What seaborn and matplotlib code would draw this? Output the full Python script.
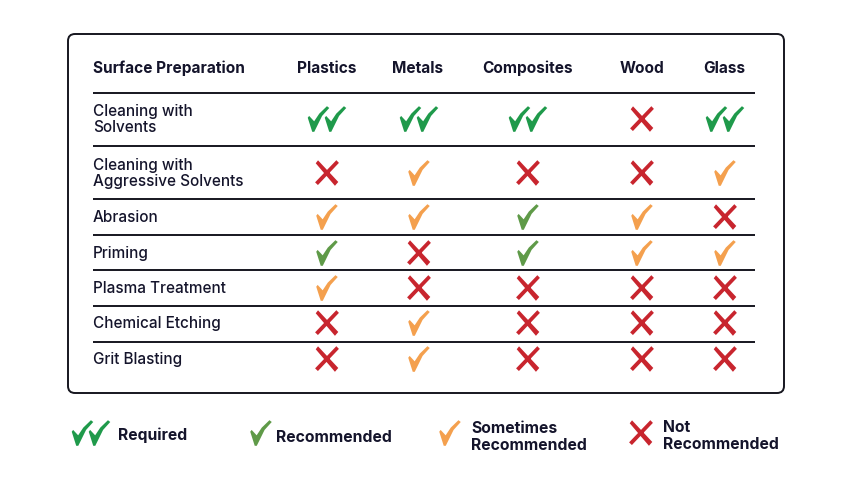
import matplotlib
matplotlib.use('Agg')
import matplotlib.pyplot as plt
from matplotlib.patches import FancyBboxPatch
from matplotlib.path import Path
import pandas as pd
import seaborn as sns

surfaces = ['Plastics', 'Metals', 'Composites', 'Wood', 'Glass']
preparations = ['Cleaning with\nSolvents', 'Cleaning with\nAggressive Solvents', 'Abrasion', 'Priming',
                'Plasma Treatment', 'Chemical Etching', 'Grit Blasting']

# R required, C recommended, S sometimes, N not recommended
plastics = ['R', 'N', 'S', 'C', 'S', 'N', 'N']
metals = ['R', 'S', 'S', 'N', 'N', 'S', 'S']
composites = ['R', 'N', 'C', 'C', 'N', 'N', 'N']
wood = ['N', 'N', 'S', 'S', 'N', 'N', 'N']
glass = ['R', 'S', 'N', 'S', 'N', 'N', 'N']
ratings = [plastics, metals, composites, wood, glass]

legend_labels = ['Required', 'Recommended', 'Sometimes\nRecommended', 'Not\nRecommended']
legend_codes = ['R', 'C', 'S', 'N']

# layout in figure pixels
col_x = [327, 419, 528, 642, 725]
head_x = [327, 418, 528, 642, 724]
row_y = [119, 173, 217, 253, 288, 323, 359]
line_y = [93, 146, 199, 235, 270, 306, 342]
legend_x = [91, 261, 450, 641]
legend_text_x = [118, 276, 471, 663]
legend_text_y = [435, 437, 437, 436]
DOUBLE_GAP = 8.5

colors = {'R': '#1f9a4b', 'C': '#5f9a48', 'S': '#f4a04e', 'N': '#c8252e'}
TEXT = '#14142b'

check = Path([(-0.84, 0.10), (-0.73, 0.24), (-0.34, -0.18), (0.06, 0.42), (0.66, 1.0), (0.84, 0.86),
              (0.28, 0.24), (-0.33, -1.0), (-0.49, -1.0), (-0.84, 0.10)], closed=True)
stroke_a = Path([(-0.88, 0.76), (-0.70, 0.99), (0.88, -0.70), (0.62, -1.0), (-0.88, 0.76)], closed=True)
stroke_b = Path([(0.73, 1.0), (0.93, 0.79), (-0.71, -0.94), (-0.93, -0.73), (0.73, 1.0)], closed=True)
cross = Path.make_compound_path(stroke_a, stroke_b)
markers = {'R': check, 'C': check, 'S': check, 'N': cross}


def expand(x, y, code):
    # the double tick is two ordinary ticks side by side
    if code == 'R':
        return [(x - DOUBLE_GAP, y, code), (x + DOUBLE_GAP, y, code)]
    return [(x, y, code)]


grid_pts = []
for cx, col in zip(col_x, ratings):
    for ry, code in zip(row_y, col):
        grid_pts += expand(cx, ry, code)
legend_pts = []
for lx, code in zip(legend_x, legend_codes):
    legend_pts += expand(lx, 433, code)
df = pd.DataFrame(grid_pts + legend_pts, columns=['x', 'y', 'rating'])

sns.set_theme(style='white')
plt.rcParams['font.family'] = ['Inter', 'DejaVu Sans']

fig = plt.figure(figsize=(8.51, 4.78), dpi=100)
ax = fig.add_axes([0, 0, 1, 1])
ax.set_xlim(0, 851)
ax.set_ylim(478, 0)
ax.axis('off')

ax.add_patch(FancyBboxPatch((68, 34), 716, 359, boxstyle='round,pad=0,rounding_size=7',
                            fc='white', ec='#16161f', lw=1.4))
ax.hlines(line_y, 93, 755, color='#16161f', lw=1.4)

sns.scatterplot(data=df, x='x', y='y', hue='rating', style='rating', palette=colors, markers=markers,
                s=340, linewidth=0, legend=False, ax=ax, zorder=3, clip_on=False)

ax.text(93, 68, 'Surface Preparation', fontsize=11.1, fontweight='bold', color=TEXT, va='center')
for x, name in zip(head_x, surfaces):
    ax.text(x, 68, name, fontsize=11.1, fontweight='bold', color=TEXT, va='center', ha='center')
for y, name in zip(row_y, preparations):
    ax.text(93, y + 0.5, name, fontsize=11, fontweight='medium', color=TEXT, va='center', linespacing=1.15)
for x, y, name in zip(legend_text_x, legend_text_y, legend_labels):
    ax.text(x, y, name, fontsize=11.3, fontweight='bold', color=TEXT, va='center', linespacing=1.15)

fig.savefig('out.png', dpi=100)
